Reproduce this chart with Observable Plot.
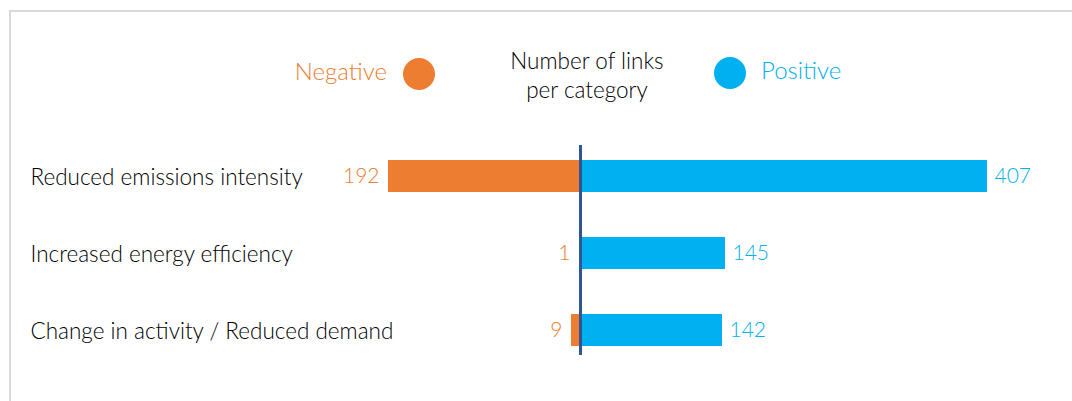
<!DOCTYPE html>
<html>
<head>
<meta charset="utf-8">
<script src="https://cdn.jsdelivr.net/npm/d3@7"></script>
<script src="https://cdn.jsdelivr.net/npm/@observablehq/plot@0.6"></script>
<style>
  body { margin: 0; background: #fff; font-family: Lato, "Open Sans", sans-serif; font-weight: 300; }
  #wrap { position: relative; width: 1072px; height: 401px; overflow: hidden; }
  #frame { position: absolute; left: 9px; top: 10px; width: 1100px; height: 420px; border: 2px solid #d9d9d9; box-sizing: border-box; }
  .lg { position: absolute; white-space: nowrap; }
  .dot { position: absolute; width: 32px; height: 32px; border-radius: 50%; }
  #plot { position: absolute; left: 0; top: 130px; }
</style>
</head>
<body>
<div id="wrap">
  <div id="frame"></div>
  <div id="legend"></div>
  <div id="plot"></div>
</div>
<script>
const categories = ["Reduced emissions intensity", "Increased energy efficiency", "Change in activity / Reduced demand"];
const negativeValues = [192, 1, 9];
const positiveValues = [407, 145, 142];
const seriesNames = ["Negative", "Positive"];
const seriesColors = ["#ED7D31", "#00B0F0"];
const legendTitle = ["Number of links", "per category"];

const rows = [];
categories.forEach((c, i) => {
  rows.push({cat: c, type: "Negative", value: -negativeValues[i], label: String(negativeValues[i])});
  rows.push({cat: c, type: "Positive", value: positiveValues[i], label: String(positiveValues[i])});
});

// Legend
const legend = document.getElementById("legend");
legend.innerHTML = `
  <div class="lg" style="right:${1072-387}px; top:56px; font-size:24px; color:${seriesColors[0]};">${seriesNames[0]}</div>
  <div class="dot" style="left:403px; top:58px; background:${seriesColors[0]};"></div>
  <div class="lg" style="left:487px; width:200px; top:46px; text-align:center; font-size:22.5px; line-height:29px; color:#000;">${legendTitle[0]}<br>${legendTitle[1]}</div>
  <div class="dot" style="left:714px; top:57px; background:${seriesColors[1]};"></div>
  <div class="lg" style="left:761px; top:55px; font-size:24px; color:${seriesColors[1]};">${seriesNames[1]}</div>
`;

const chart = Plot.plot({
  width: 1072,
  height: 271,
  marginLeft: 0,
  marginRight: 0,
  marginTop: 15,
  marginBottom: 46,
  style: {fontFamily: "Lato, 'Open Sans', sans-serif", fontWeight: 300, background: "transparent", overflow: "visible"},
  x: {domain: [-580, 492], axis: null},
  y: {domain: categories, range: [29.5, 216.5], paddingInner: 0.587, paddingOuter: 0, axis: null},
  color: {domain: seriesNames, range: seriesColors},
  marks: [
    Plot.barX(rows, {x: "value", y: "cat", fill: "type"}),
    Plot.ruleX([0], {stroke: "#2F5597", strokeWidth: 3}),
    Plot.text(rows.filter(d => d.type === "Negative"), {x: "value", y: "cat", text: "label", textAnchor: "end", dx: -9, dy: 0, fill: seriesColors[0], fontSize: 21}),
    Plot.text(rows.filter(d => d.type === "Positive"), {x: "value", y: "cat", text: "label", textAnchor: "start", dx: 7, dy: 0, fill: seriesColors[1], fontSize: 21}),
    Plot.text(categories, {y: d => d, text: d => d, frameAnchor: "left", textAnchor: "start", dx: 30, dy: 1, fill: "#000", fontSize: 22.5})
  ]
});
document.getElementById("plot").appendChild(chart);
</script>
</body>
</html>
